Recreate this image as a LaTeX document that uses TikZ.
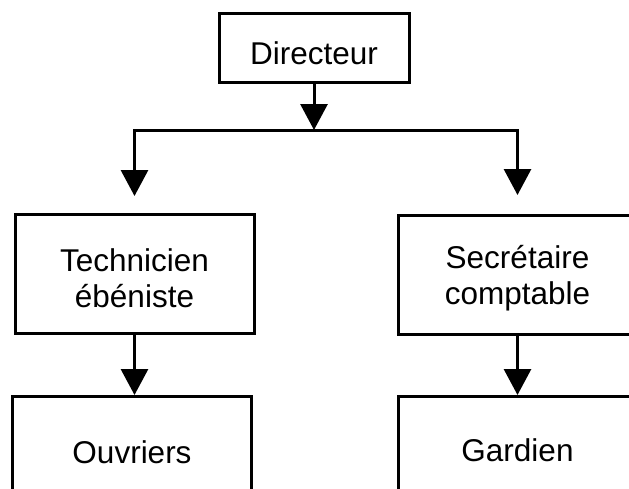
\documentclass[tikz,border=0pt]{standalone}
\usepackage{fontspec}
\setmainfont{Liberation Sans}
\usetikzlibrary{arrows.meta}
\newcommand\boxtext[2]{\raisebox{#1}[\height][\depth]{\begin{tabular}{@{}c@{}}#2\end{tabular}}}
\begin{document}
\begin{tikzpicture}[x=1pt,y=-1pt,
  box/.style={draw,line width=3pt,minimum width=239pt,minimum height=119pt,inner sep=0pt,font=\fontsize{31.5}{36}\selectfont},
  conn/.style={line width=3pt,line cap=rect},
  arr/.style={line width=3pt,-{Triangle[width=27pt,length=26pt]}}]
\useasboundingbox (0,0) rectangle (629,488);
\clip (0,0) rectangle (629,488);
\node[box,minimum width=190pt,minimum height=68.5pt] (dir) at (314,48) {\boxtext{-9pt}{Directeur}};
\node[box] (tech) at (134.5,274) {\boxtext{-8pt}{Technicien\\ébéniste}};
\node[box] (secr) at (517.5,275) {\boxtext{-4pt}{Secrétaire\\comptable}};
\node[box] (ouv) at (132,456) {\boxtext{0pt}{Ouvriers}};
\node[box] (gard) at (517.5,456) {\boxtext{2pt}{Gardien}};
\coordinate (hm) at (314,130);
\coordinate (hl) at (134.5,130);
\coordinate (hr) at (517.5,130);
\draw[conn] (hl) -- (hr);
\draw[arr] (dir.south) -- (hm);
\draw[arr,shorten >=17pt] (hl) -- (tech.north);
\draw[arr,shorten >=19pt] (hr) -- (secr.north);
\draw[arr] (tech.south) -- (tech.south |- ouv.north);
\draw[arr] (secr.south) -- (gard.north);
\end{tikzpicture}
\end{document}
